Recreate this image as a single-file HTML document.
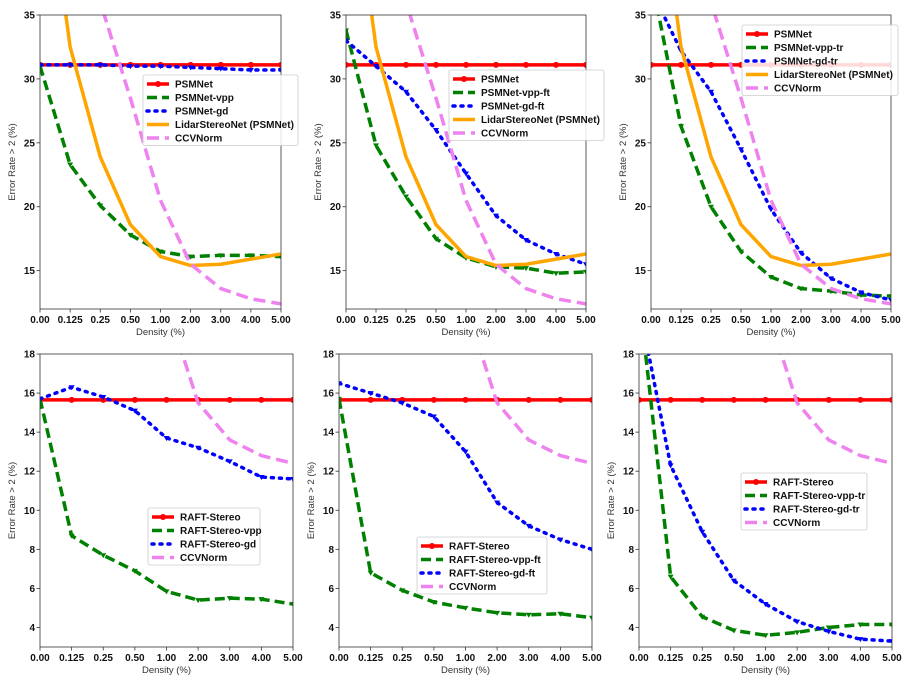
<!DOCTYPE html>
<html><head><meta charset="utf-8"><style>
html,body{margin:0;padding:0;background:#fff;}
svg{display:block;font-family:"Liberation Sans","DejaVu Sans",sans-serif;}
</style></head><body>
<svg id="fig" width="915" height="679" viewBox="0 0 915 679" xmlns="http://www.w3.org/2000/svg"></svg>
<script>
const categories = ["0.00","0.125","0.25","0.50","1.00","2.00","3.00","4.00","5.00"];
const yTicksTop = [15,20,25,30,35];
const yTicksBot = [4,6,8,10,12,14,16,18];
const psmnet = [31.1,31.1,31.1,31.1,31.1,31.1,31.1,31.1,31.1];
const lidar = [50,32.5,23.9,18.6,16.1,15.4,15.5,15.9,16.3];
const ccvnorm = [50,42,36,28.5,20.5,15.5,13.6,12.8,12.4];
const psmVpp = [31,23.3,20.1,17.8,16.5,16.1,16.2,16.2,16.1];
const psmGd = [31.1,31.1,31.1,31.0,31.0,30.9,30.8,30.7,30.7];
const psmVppFt = [33.8,24.8,20.8,17.5,16.0,15.3,15.2,14.8,14.9];
const psmGdFt = [33,31,29,26,22.6,19.3,17.4,16.3,15.5];
const psmVppTr = [38,26.3,20,16.5,14.5,13.6,13.4,13.1,13.0];
const psmGdTr = [37,32.2,29,24.5,19.8,16.4,14.4,13.3,12.7];
const raft = [15.65,15.65,15.65,15.65,15.65,15.65,15.65,15.65,15.65];
const raftVpp = [15.7,8.7,7.7,6.9,5.85,5.4,5.5,5.45,5.2];
const raftGd = [15.7,16.3,15.8,15.1,13.7,13.2,12.5,11.7,11.6];
const raftVppFt = [15.7,6.8,5.9,5.3,5.0,4.75,4.65,4.7,4.5];
const raftGdFt = [16.5,16.0,15.5,14.8,13.0,10.4,9.2,8.5,8.0];
const raftVppTr = [21,6.6,4.55,3.85,3.6,3.75,4.0,4.15,4.15];
const raftGdTr = [20.5,12.3,8.9,6.4,5.2,4.3,3.8,3.4,3.3];

const NS="http://www.w3.org/2000/svg";
const fig=document.getElementById('fig');
function mk(tag,attrs,parent){const e=document.createElementNS(NS,tag);for(const k in attrs)e.setAttribute(k,attrs[k]);(parent||fig).appendChild(e);return e;}

const STY={
 red:{c:"#ff0000",d:"",w:3.5,m:"o"},
 green:{c:"#008000",d:"10,5",w:3.5,m:"v"},
 blue:{c:"#0000ff",d:"2,6",w:3.5,m:"v",cap:"round"},
 orange:{c:"#ffa500",d:"",w:3.5,m:""},
 pink:{c:"#ee82ee",d:"12,6",w:3.5,m:""}
};

const panels=[
 {L:40,R:281,T:15,B:309,ymin:12,ymax:35,yt:yTicksTop,series:[["PSMNet",psmnet,"red"],["PSMNet-vpp",psmVpp,"green"],["PSMNet-gd",psmGd,"blue"],["LidarStereoNet (PSMNet)",lidar,"orange"],["CCVNorm",ccvnorm,"pink"]],leg:[143,75,155]},
 {L:346,R:586,T:15,B:309,ymin:12,ymax:35,yt:yTicksTop,series:[["PSMNet",psmnet,"red"],["PSMNet-vpp-ft",psmVppFt,"green"],["PSMNet-gd-ft",psmGdFt,"blue"],["LidarStereoNet (PSMNet)",lidar,"orange"],["CCVNorm",ccvnorm,"pink"]],leg:[449,70,155]},
 {L:651,R:891,T:15,B:309,ymin:12,ymax:35,yt:yTicksTop,series:[["PSMNet",psmnet,"red"],["PSMNet-vpp-tr",psmVppTr,"green"],["PSMNet-gd-tr",psmGdTr,"blue"],["LidarStereoNet (PSMNet)",lidar,"orange"],["CCVNorm",ccvnorm,"pink"]],leg:[742,25,156]},
 {L:40,R:293,T:354,B:647,ymin:3,ymax:18,yt:yTicksBot,series:[["RAFT-Stereo",raft,"red"],["RAFT-Stereo-vpp",raftVpp,"green"],["RAFT-Stereo-gd",raftGd,"blue"],["CCVNorm",ccvnorm,"pink"]],leg:[148,508,112]},
 {L:339,R:592,T:354,B:647,ymin:3,ymax:18,yt:yTicksBot,series:[["RAFT-Stereo",raft,"red"],["RAFT-Stereo-vpp-ft",raftVppFt,"green"],["RAFT-Stereo-gd-ft",raftGdFt,"blue"],["CCVNorm",ccvnorm,"pink"]],leg:[417,537,130]},
 {L:639,R:892,T:354,B:647,ymin:3,ymax:18,yt:yTicksBot,series:[["RAFT-Stereo",raft,"red"],["RAFT-Stereo-vpp-tr",raftVppTr,"green"],["RAFT-Stereo-gd-tr",raftGdTr,"blue"],["CCVNorm",ccvnorm,"pink"]],leg:[741,473,126]}
];

panels.forEach((p,pi)=>{
 const g=mk('g',{});
 
 
 const xs=i=>p.L+(p.R-p.L)*i/(categories.length-1);
 const ys=v=>p.B-(v-p.ymin)/(p.ymax-p.ymin)*(p.B-p.T);
 const cid='clip'+pi;
 const cp=mk('clipPath',{id:cid},g); mk('rect',{x:p.L,y:p.T,width:p.R-p.L,height:p.B-p.T},cp);
 const plot=mk('g',{'clip-path':'url(#'+cid+')'},g);
 p.series.forEach(s=>{
  const st=STY[s[2]];
  const pts=s[1].map((v,i)=>xs(i)+','+ys(v)).join(' ');
  const pl=mk('polyline',{points:pts,fill:'none',stroke:st.c,'stroke-width':st.w,'stroke-dasharray':st.d,'stroke-linecap':st.cap||'butt','stroke-linejoin':'round'},plot);
  
  
  if(st.m){s[1].forEach((v,i)=>{
   if(st.m==='o'){const m=mk('circle',{cx:xs(i),cy:ys(v),r:3,fill:st.c},plot);
    
    }
   else{const x=xs(i),y=ys(v);const m=mk('polygon',{points:(x-3)+','+(y-2)+' '+(x+3)+','+(y-2)+' '+x+','+(y+3),fill:st.c},plot);
    
    }
  });}
 });
 const fr=mk('rect',{x:p.L,y:p.T,width:p.R-p.L,height:p.B-p.T,fill:'none',stroke:'#333','stroke-width':0.8},g);
 
 
 categories.forEach((c,i)=>{
  mk('line',{x1:xs(i),x2:xs(i),y1:p.B,y2:p.B+3.5,stroke:'#333','stroke-width':0.8},g);
  const t=mk('text',{x:xs(i),y:p.B+14,'text-anchor':'middle','font-size':10,'font-weight':'bold',fill:'#111'},g);
  t.textContent=c;
  
  
 });
 p.yt.forEach(v=>{
  mk('line',{x1:p.L-3.5,x2:p.L,y1:ys(v),y2:ys(v),stroke:'#333','stroke-width':0.8},g);
  const t=mk('text',{x:p.L-5,y:ys(v)+3.5,'text-anchor':'end','font-size':10,'font-weight':'bold',fill:'#111'},g);
  t.textContent=v;
  
  
 });
 const xl=mk('text',{x:(p.L+p.R)/2,y:p.B+26,'text-anchor':'middle','font-size':9.5,fill:'#333'},g);
 xl.textContent='Density (%)';
 
 
 const yx=p.L-25, yc=(p.T+p.B)/2;
 const yl=mk('text',{x:yx,y:yc,'text-anchor':'middle','font-size':9.5,fill:'#333',transform:'rotate(-90 '+yx+' '+yc+')'},g);
 yl.textContent='Error Rate > 2 (%)';
 
 
 // legend
 const [lx,ly,lw]=p.leg; const n=p.series.length; const lh=n*13.5+3;
 const lg=mk('g',{},g);
 
 
 mk('rect',{x:lx,y:ly,width:lw,height:lh,fill:'#fff','fill-opacity':0.85,stroke:'#ccc','stroke-width':0.8,rx:2},lg);
 p.series.forEach((s,i)=>{
  const st=STY[s[2]]; const yy=ly+9+i*13.5;
  mk('line',{x1:lx+4,x2:lx+26,y1:yy,y2:yy,stroke:st.c,'stroke-width':st.w,'stroke-dasharray':st.d,'stroke-linecap':st.cap||'butt'},lg);
  if(st.m==='o')mk('circle',{cx:lx+15,cy:yy,r:3,fill:st.c},lg);
  const t=mk('text',{x:lx+32,y:yy+3.5,'font-size':10,'font-weight':'bold',fill:'#111'},lg);
  t.textContent=s[0];
  
  
 });
});
</script>
</body></html>
